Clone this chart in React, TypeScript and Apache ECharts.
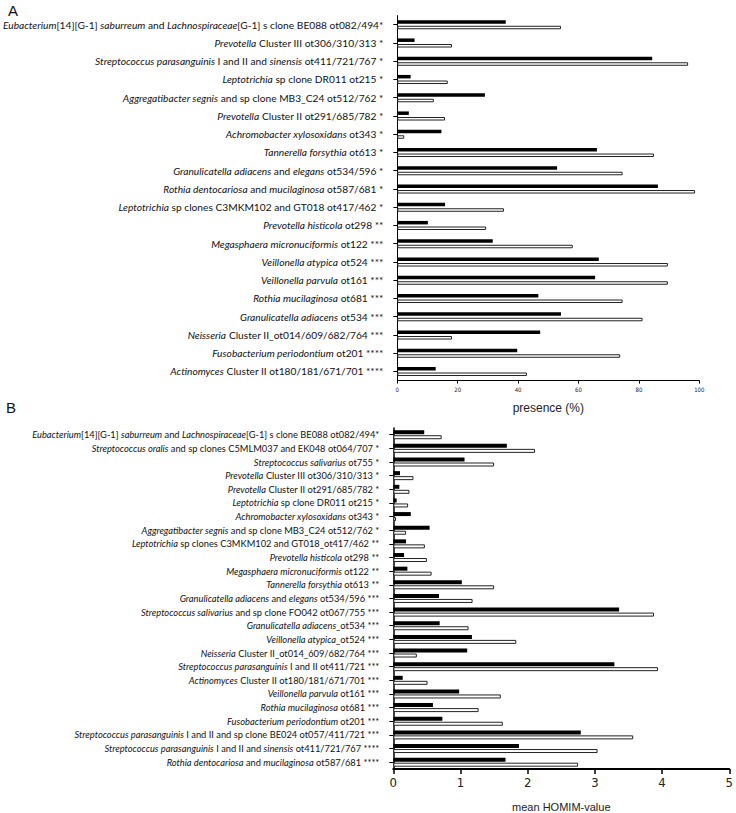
import React, { useEffect, useRef } from "react";
import * as echarts from "echarts";

const categoriesA = [
  "<i>Eubacterium</i>[14][G-1] <i>saburreum</i> and <i>Lachnospiraceae</i>[G-1] s clone BE088 ot082/494*",
  "<i>Prevotella</i> Cluster III ot306/310/313 *",
  "<i>Streptococcus parasanguinis</i> I and II and <i>sinensis</i> ot411/721/767 *",
  "<i>Leptotrichia</i> sp clone DR011 ot215 *",
  "<i>Aggregatibacter segnis</i> and sp clone MB3_C24 ot512/762 *",
  "<i>Prevotella</i> Cluster II ot291/685/782 *",
  "<i>Achromobacter xylosoxidans</i> ot343 *",
  "<i>Tannerella forsythia</i> ot613 *",
  "<i>Granulicatella adiacens</i> and <i>elegans</i> ot534/596 *",
  "<i>Rothia dentocariosa</i> and <i>mucilaginosa</i> ot587/681 *",
  "<i>Leptotrichia</i> sp clones C3MKM102 and GT018 ot417/462 *",
  "<i>Prevotella histicola</i> ot298 **",
  "<i>Megasphaera micronuciformis</i> ot122 ***",
  "<i>Veillonella atypica</i> ot524 ***",
  "<i>Veillonella parvula</i> ot161 ***",
  "<i>Rothia mucilaginosa</i> ot681 ***",
  "<i>Granulicatella adiacens</i> ot534 ***",
  "<i>Neisseria</i> Cluster II_ot014/609/682/764 ***",
  "<i>Fusobacterium periodontium</i> ot201 ****",
  "<i>Actinomyces</i> Cluster II ot180/181/671/701 ****",
];
const blackA = [35.9, 5.7, 84.4, 4.4, 29.0, 3.8, 14.6, 66.1, 52.9, 86.3, 15.8, 10.1, 31.6, 66.7, 65.5, 46.7, 54.2, 47.3, 39.7, 12.7];
const whiteA = [54.2, 18.1, 96.3, 16.7, 12.1, 15.8, 2.3, 85.0, 74.6, 98.6, 35.3, 29.4, 58.1, 89.6, 89.6, 74.6, 81.2, 18.1, 73.8, 42.9];

const categoriesB = [
  "<i>Eubacterium</i>[14][G-1] <i>saburreum</i> and <i>Lachnospiraceae</i>[G-1] s clone BE088 ot082/494*",
  "<i>Streptococcus oralis</i> and sp clones C5MLM037 and EK048 ot064/707 *",
  "<i>Streptococcus salivarius</i> ot755 *",
  "<i>Prevotella</i> Cluster III ot306/310/313 *",
  "<i>Prevotella</i> Cluster II ot291/685/782 *",
  "<i>Leptotrichia</i> sp clone DR011 ot215 *",
  "<i>Achromobacter xylosoxidans</i> ot343 *",
  "<i>Aggregatibacter segnis</i> and sp clone MB3_C24 ot512/762 *",
  "<i>Leptotrichia</i> sp clones C3MKM102 and GT018_ot417/462 **",
  "<i>Prevotella histicola</i> ot298 **",
  "<i>Megasphaera micronuciformis</i> ot122 **",
  "<i>Tannerella forsythia</i> ot613 **",
  "<i>Granulicatella adiacens</i> and <i>elegans</i> ot534/596 ***",
  "<i>Streptococcus salivarius</i> and sp clone FO042 ot067/755 ***",
  "<i>Granulicatella adiacens</i>_ot534 ***",
  "<i>Veillonella atypica</i>_ot524 ***",
  "<i>Neisseria</i> Cluster II_ot014_609/682/764 ***",
  "<i>Streptococcus parasanguinis</i> I and II ot411/721 ***",
  "<i>Actinomyces</i> Cluster II ot180/181/671/701 ***",
  "<i>Veillonella parvula</i> ot161 ***",
  "<i>Rothia mucilaginosa</i> ot681 ***",
  "<i>Fusobacterium periodontium</i> ot201 ***",
  "<i>Streptococcus parasanguinis</i> I and II and sp clone BE024 ot057/411/721 ***",
  "<i>Streptococcus parasanguinis</i> I and II and <i>sinensis</i> ot411/721/767 ****",
  "<i>Rothia dentocariosa</i> and <i>mucilaginosa</i> ot587/681 ****",
];
const blackB = [0.46, 1.69, 1.06, 0.10, 0.09, 0.05, 0.26, 0.54, 0.19, 0.16, 0.21, 1.02, 0.68, 3.36, 0.69, 1.17, 1.10, 3.29, 0.14, 0.98, 0.59, 0.73, 2.79, 1.87, 1.67];
const whiteB = [0.72, 2.11, 1.50, 0.30, 0.24, 0.22, 0.04, 0.19, 0.47, 0.50, 0.57, 1.50, 1.18, 3.88, 1.12, 1.83, 0.35, 3.94, 0.51, 1.60, 1.27, 1.63, 3.57, 3.04, 2.75];

const ticksA = [0, 20, 40, 60, 80, 100];
const ticksB = [0, 1, 2, 3, 4, 5];

const toRich = (s: string) => s.replace(/<i>(.*?)<\/i>/g, "{i|$1}");

const LABEL_FONT = "Lato, 'Open Sans', sans-serif";
const NARROW = "'Liberation Sans Narrow', 'DejaVu Sans Condensed', 'Liberation Sans', sans-serif";

export default function App() {
  const ref = useRef<HTMLDivElement>(null);
  useEffect(() => {
    if (!ref.current) return;
    const chart = echarts.init(ref.current, undefined, { renderer: "svg" });
    const catAxis = (gridIndex: number, data: string[], fontSize: number) => ({
      type: "category",
      gridIndex,
      inverse: true,
      data,
      axisLine: { show: true, lineStyle: { color: "#000", width: gridIndex === 1 ? 1.5 : 1 } },
      axisTick: { show: true, alignWithLabel: true, length: 4, lineStyle: { color: "#000" } },
      axisLabel: {
        interval: 0,
        margin: 14,
        fontSize,
        fontFamily: LABEL_FONT,
        color: "#111",
        formatter: (v: string) => toRich(v),
        rich: { i: { fontStyle: "italic", fontSize, fontFamily: LABEL_FONT, color: "#111" } },
      },
    });
    const option = {
      animation: false,
      backgroundColor: "#fff",
      graphic: [
        { type: "text", left: 8, top: 3, style: { text: "A", fontSize: 15, fontFamily: "'Liberation Sans', sans-serif", fill: "#111" } },
        { type: "text", left: 6, top: 400, style: { text: "B", fontSize: 15, fontFamily: "'Liberation Sans', sans-serif", fill: "#111" } },
      ],
      grid: [
        { left: 395.7, top: 15.6, width: 303.6, height: 365, containLabel: false },
        { left: 393.3, top: 427.9, width: 339.4, height: 346.1, containLabel: false },
      ],
      xAxis: [
        {
          type: "value",
          gridIndex: 0,
          min: ticksA[0],
          max: ticksA[ticksA.length - 1],
          interval: 20,
          splitLine: { show: false },
          axisLine: { show: true, lineStyle: { color: "#000" } },
          axisTick: { show: true, length: 3, lineStyle: { color: "#000" } },
          axisLabel: { fontSize: 6, margin: 6, color: "#222", fontFamily: NARROW },
          name: "presence (%)",
          nameLocation: "middle",
          nameGap: 21,
          nameTextStyle: { fontSize: 12, color: "#222", fontFamily: "'Liberation Sans', sans-serif" },
        },
        {
          type: "value",
          gridIndex: 1,
          min: ticksB[0],
          max: ticksB[ticksB.length - 1],
          interval: 1,
          splitLine: { show: false },
          axisLine: { show: true, lineStyle: { color: "#000", width: 2 } },
          axisTick: { show: true, length: 5, lineStyle: { color: "#000", width: 1.5 } },
          axisLabel: { fontSize: 13, margin: 7, color: "#222", fontFamily: NARROW },
          name: "mean HOMIM-value",
          nameLocation: "middle",
          nameGap: 32,
          nameTextStyle: { fontSize: 11, color: "#222", fontFamily: "'Liberation Sans', sans-serif" },
        },
      ],
      yAxis: [catAxis(0, categoriesA, 10.2), catAxis(1, categoriesB, 9.3)],
      series: [
        { type: "bar", xAxisIndex: 0, yAxisIndex: 0, data: blackA, barWidth: 3.5, barGap: "60%", itemStyle: { color: "#000" } },
        { type: "bar", xAxisIndex: 0, yAxisIndex: 0, data: whiteA, barWidth: 3.5, barGap: "60%", itemStyle: { color: "#fff", borderColor: "#222", borderWidth: 1 } },
        { type: "bar", xAxisIndex: 1, yAxisIndex: 1, data: blackB, barWidth: 4, barGap: "25%", itemStyle: { color: "#000" } },
        { type: "bar", xAxisIndex: 1, yAxisIndex: 1, data: whiteB, barWidth: 4, barGap: "25%", itemStyle: { color: "#fff", borderColor: "#222", borderWidth: 1 } },
      ],
    };
    chart.setOption(option as any);
    return () => chart.dispose();
  }, []);
  return <div ref={ref} style={{ position: "absolute", left: 0, top: 0, width: 736, height: 813 }} />;
}
